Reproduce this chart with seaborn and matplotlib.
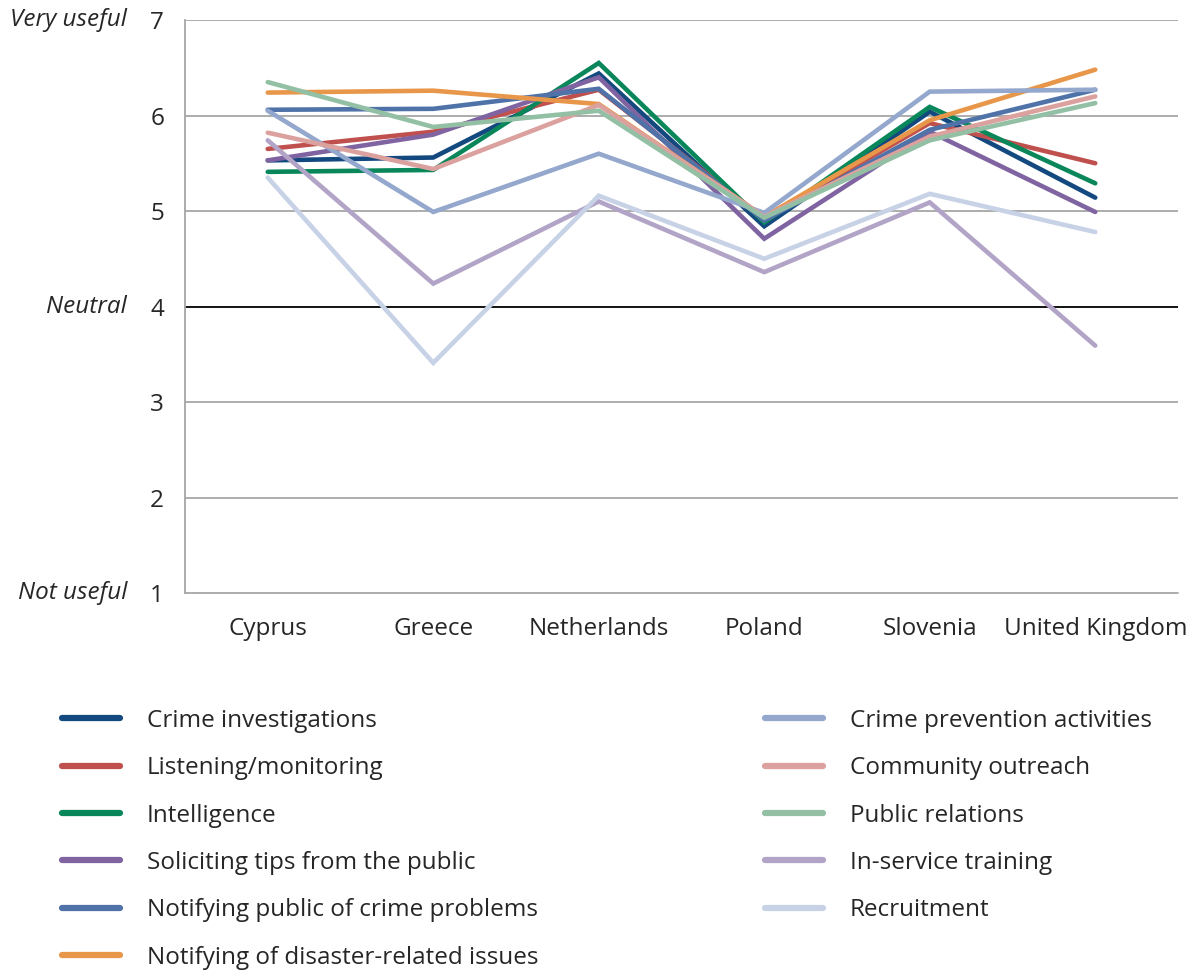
import pandas as pd
import numpy as np
import matplotlib
matplotlib.use('Agg')
import matplotlib.pyplot as plt
import seaborn as sns

countries = ['Cyprus', 'Greece', 'Netherlands', 'Poland', 'Slovenia', 'United Kingdom']

crime_investigations = [5.53, 5.56, 6.44, 4.84, 6.04, 5.14]
listening_monitoring = [5.65, 5.83, 6.27, 4.92, 5.92, 5.50]
intelligence = [5.41, 5.43, 6.55, 4.88, 6.09, 5.29]
soliciting_tips = [5.53, 5.80, 6.40, 4.71, 5.83, 4.99]
notifying_public = [6.06, 6.07, 6.28, 4.90, 5.85, 6.27]
notifying_disaster = [6.24, 6.26, 6.12, 4.94, 5.95, 6.48]
crime_prevention = [6.05, 4.99, 5.60, 4.98, 6.25, 6.27]
community_outreach = [5.82, 5.44, 6.11, 4.94, 5.78, 6.20]
public_relations = [6.35, 5.88, 6.05, 4.93, 5.74, 6.13]
in_service_training = [5.74, 4.24, 5.10, 4.36, 5.09, 3.59]
recruitment = [5.35, 3.41, 5.16, 4.50, 5.18, 4.78]

series_names = [
    'Crime investigations', 'Listening/monitoring', 'Intelligence',
    'Soliciting tips from the public', 'Notifying public of crime problems',
    'Notifying of disaster-related issues', 'Crime prevention activities',
    'Community outreach', 'Public relations', 'In-service training', 'Recruitment'
]
series_values = [
    crime_investigations, listening_monitoring, intelligence, soliciting_tips,
    notifying_public, notifying_disaster, crime_prevention, community_outreach,
    public_relations, in_service_training, recruitment
]
colors = ['#14497f', '#c0504d', '#0a875a', '#8064a2', '#4f72a8', '#e8974a',
          '#94a7cd', '#dba19e', '#93c0a5', '#b2a4c6', '#c8d2e7']

rows = []
for name, vals in zip(series_names, series_values):
    for c, v in zip(countries, vals):
        rows.append({'country': c, 'score': v, 'use': name})
df = pd.DataFrame(rows)

sns.set_theme(style='white')
plt.rcParams['font.family'] = ['Open Sans', 'DejaVu Sans']
FS = 17.5

fig = plt.figure(figsize=(12.04, 9.71), dpi=100)
ax = fig.add_axes([185 / 1204, 1 - 593 / 971, (1178 - 185) / 1204, (593 - 20) / 971])

sns.lineplot(data=df, x='country', y='score', hue='use', hue_order=series_names,
             palette=colors, sort=False, linewidth=3.3, ax=ax, legend=True,
             solid_capstyle='round', solid_joinstyle='miter')

ax.set_xlim(-0.5, 5.5)
ax.set_ylim(1, 7)
ax.set_yticks([1, 2, 3, 4, 5, 6, 7])
for y in [2, 3, 5, 6, 7]:
    ax.axhline(y, color='#a6a6a6', lw=1.3, zorder=0)
ax.axhline(4, color='black', lw=1.3, zorder=0)

for s in ['top', 'right', 'bottom']:
    ax.spines[s].set_visible(False)
ax.spines['left'].set_color('#a6a6a6')
ax.spines['left'].set_linewidth(1.3)
ax.axhline(1, color='#a6a6a6', lw=1.3, zorder=0, clip_on=False)

ax.set_xticks(range(len(countries)))
ax.set_xticklabels(countries, fontsize=FS)
ax.set_xticks(np.arange(-0.5, 6, 1), minor=True)
ax.tick_params(axis='x', which='major', length=0, pad=17)
ax.tick_params(axis='x', which='minor', length=6, width=1.3, color='#a6a6a6', direction='out')
ax.tick_params(axis='y', length=6, width=1.3, color='#a6a6a6', labelsize=FS, pad=9)
ax.set_xlabel('')
ax.set_ylabel('')

for y, txt in [(7, 'Very useful'), (4, 'Neutral'), (1, 'Not useful')]:
    ax.annotate(txt, xy=(0, y), xycoords=ax.get_yaxis_transform(),
                xytext=(-58, 0), textcoords='offset pixels',
                ha='right', va='center', fontsize=FS, style='italic')

handles, labels = ax.get_legend_handles_labels()
ax.get_legend().remove()
for h in handles:
    h.set_linewidth(4.5)
leg_kw = dict(frameon=False, fontsize=FS, handlelength=2.4, handletextpad=1.1,
              labelspacing=0.96, borderaxespad=0, borderpad=0, loc='upper left')
fig.legend(handles[:6], labels[:6], bbox_to_anchor=(62 / 1204, 1 - 709 / 971), **leg_kw)
fig.legend(handles[6:], labels[6:], bbox_to_anchor=(765 / 1204, 1 - 709 / 971), **leg_kw)

fig.savefig('out.png', dpi=100)
